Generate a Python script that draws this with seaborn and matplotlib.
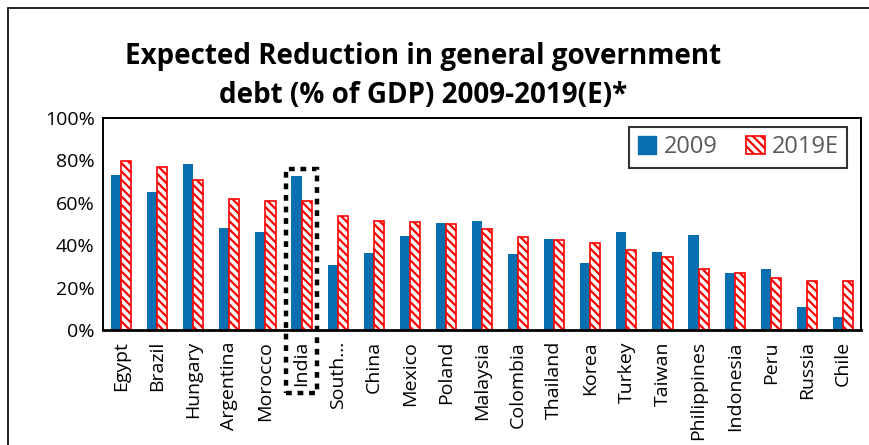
import matplotlib
matplotlib.use("Agg")
import matplotlib.pyplot as plt
import matplotlib.patches as mpatches
import matplotlib.lines as mlines
import seaborn as sns
import pandas as pd

categories = ["Egypt", "Brazil", "Hungary", "Argentina", "Morocco", "India", "South…",
              "China", "Mexico", "Poland", "Malaysia", "Colombia", "Thailand", "Korea",
              "Turkey", "Taiwan", "Philippines", "Indonesia", "Peru", "Russia", "Chile"]
debt_2009 = [73.2, 65.3, 78.4, 48.0, 46.4, 72.7, 30.7, 36.5, 44.4, 50.7, 51.5,
             35.7, 42.8, 31.6, 46.4, 37.0, 44.7, 26.9, 28.7, 11.0, 6.3]
debt_2019e = [79.5, 76.8, 70.9, 62.0, 60.8, 60.8, 53.9, 51.2, 51.0, 49.9, 47.5,
              44.1, 42.4, 40.9, 37.8, 34.3, 29.0, 26.8, 24.4, 23.3, 23.1]
series = ["2009", "2019E"]
y_ticks = [0, 20, 40, 60, 80, 100]
title = "Expected Reduction in general government\ndebt (% of GDP) 2009-2019(E)*"

BLUE = "#0870B0"
RED = "#FF0000"

df = pd.DataFrame({
    "country": categories * 2,
    "value": debt_2009 + debt_2019e,
    "series": [series[0]] * len(categories) + [series[1]] * len(categories),
})

sns.set_theme(style="white")
plt.rcParams["font.family"] = ["Open Sans", "DejaVu Sans"]
plt.rcParams["hatch.linewidth"] = 1.6

fig = plt.figure(figsize=(8.69, 4.45), dpi=100)
ax = fig.add_axes([103 / 869, 1 - 330 / 445, 758 / 869, 212 / 445])

sns.barplot(data=df, x="country", y="value", hue="series", order=categories,
            hue_order=series, palette=[BLUE, RED], width=0.56, gap=0.0,
            ax=ax, legend=False, saturation=1)

n = len(categories)
for i, patch in enumerate(ax.patches):
    if i >= n:
        patch.set_facecolor("white")
        patch.set_edgecolor(RED)
        patch.set_hatch("\\\\\\\\")
        patch.set_linewidth(1.2)
    else:
        patch.set_edgecolor(BLUE)
        patch.set_linewidth(0)

ax.set_xlim(-0.5, n - 0.5)
ax.set_ylim(0, 100)
ax.set_yticks(y_ticks)
ax.set_yticklabels([f"{t}%" for t in y_ticks], fontsize=14)
ax.set_xticks(range(n))
ax.set_xticklabels(categories, rotation=90, fontsize=14)
ax.tick_params(axis="both", length=0, pad=6, colors="black")
ax.tick_params(axis="x", pad=8)
ax.set_xlabel("")
ax.set_ylabel("")
for s in ax.spines.values():
    s.set_visible(True)
    s.set_color("black")
    s.set_linewidth(1.4)
ax.spines["bottom"].set_linewidth(2)

# Highlight box around India
idx = categories.index("India")
box = mpatches.Rectangle((idx - 0.43, -29.8), 0.86, 105.8, fill=False,
                         edgecolor="black", linewidth=3.2,
                         linestyle=(0, (1.3, 1.3)), clip_on=False, zorder=5)
ax.add_patch(box)

# Legend
handles = [mpatches.Patch(facecolor=BLUE, edgecolor=BLUE, label=series[0]),
           mpatches.Patch(facecolor="white", edgecolor=RED, hatch="\\\\\\\\",
                          linewidth=1.2, label=series[1])]
leg = ax.legend(handles=handles, loc="upper right",
                bbox_to_anchor=(0.9815, 0.9575), borderaxespad=0, ncol=2,
                fontsize=17, frameon=True, fancybox=False,
                handlelength=0.8, handleheight=0.8, handletextpad=0.3,
                columnspacing=1.2, borderpad=0.35)
leg.get_frame().set_edgecolor("black")
leg.get_frame().set_linewidth(1.5)
for t in leg.get_texts():
    t.set_color("#595959")

fig.text(0.487, 0.83, title, ha="center", va="center", fontsize=20,
         fontweight="bold", linespacing=1.45, color="black")

# Outer chart border (left and top visible)
x0, y0 = 8 / 869, 1 - 8 / 445
fig.add_artist(mlines.Line2D([x0, x0], [0, y0], transform=fig.transFigure,
                             color="black", linewidth=1.2))
fig.add_artist(mlines.Line2D([x0, 1], [y0, y0], transform=fig.transFigure,
                             color="black", linewidth=1.2))

fig.savefig("out.png", dpi=100)
